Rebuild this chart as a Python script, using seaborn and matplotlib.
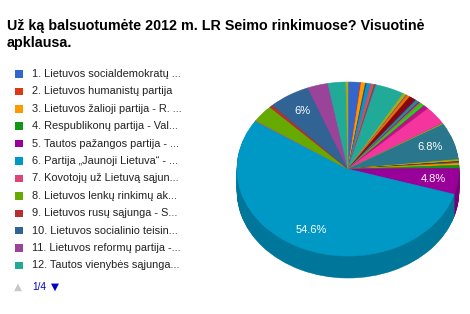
import matplotlib
matplotlib.use("Agg")
import matplotlib.pyplot as plt
from matplotlib.patches import Rectangle
import seaborn as sns

# ---------------- data ----------------
title = "Už ką balsuotumėte 2012 m. LR Seimo rinkimuose? Visuotinė\napklausa."

legend_labels = [
    "1. Lietuvos socialdemokratų ...",
    "2. Lietuvos humanistų partija",
    "3. Lietuvos žalioji partija - R. ...",
    "4. Respublikonų partija - Val...",
    "5. Tautos pažangos partija - ...",
    "6. Partija „Jaunoji Lietuva“ - ...",
    "7. Kovotojų už Lietuvą sąjun...",
    "8. Lietuvos lenkų rinkimų ak...",
    "9. Lietuvos rusų sąjunga - S...",
    "10. Lietuvos socialinio teisin...",
    "11. Lietuvos reformų partija -...",
    "12. Tautos vienybės sąjunga...",
]

# share of answers (%) for all 44 options, in data order (clockwise from top)
shares = [
    1.8, 0.1, 0.6, 0.1, 0.1, 0.6, 0.4, 0.1, 0.1, 0.1, 0.1, 4.2,
    0.5, 0.1, 0.5, 0.8, 0.3, 0.3, 0.2, 0.2, 0.3, 0.5, 0.8, 3.4,
    0.1, 0.1, 6.8, 0.1, 0.3, 0.1, 0.1, 0.1, 0.1, 0.3, 0.6, 4.8,
    54.6, 0.1, 3.2, 0.5, 6.0, 3.0, 2.6, 0.3,
]

base_palette = [
    "#3366cc", "#dc3912", "#ff9900", "#109618", "#990099", "#0099c6",
    "#dd4477", "#66aa00", "#b82e2e", "#316395", "#994499", "#22aa99",
    "#aaaa11", "#6633cc", "#e67300", "#8b0707", "#651067", "#329262",
    "#5574a6", "#3b3eac", "#b77322", "#16d620", "#b91383", "#f4359e",
    "#9c5935", "#a9c413", "#2a778d", "#668d1c", "#bea413", "#0c5922",
    "#743411",
]

page_text = "1/4"

# ---------------- style ----------------
sns.set_theme(style="white")
plt.rcParams["font.family"] = ["Liberation Sans", "DejaVu Sans"]

colors = sns.color_palette([base_palette[i % len(base_palette)] for i in range(len(shares))])
dark_colors = [tuple(c * 0.78 for c in col) for col in colors]

W, H = 470, 314
fig = plt.figure(figsize=(W / 100, H / 100), dpi=100)
fig.patch.set_facecolor("white")

# pie axes: centre (348,169) px, rx 111 px, ry 87 px
cx, cy, rx, ry = 348, 169, 111, 87
ax_left, ax_right = cx - 1.1 * rx, cx + 1.1 * rx
ax_top, ax_bot = 60, 300
ax = fig.add_axes([ax_left / W, (H - ax_bot) / H, (ax_right - ax_left) / W, (ax_bot - ax_top) / H])

depth = 22 / ry
n_layers = 30
for k in range(n_layers):
    off = -depth + depth * k / n_layers
    ax.pie(shares, colors=dark_colors, startangle=90, counterclock=False,
           center=(0, off), radius=1.0,
           wedgeprops=dict(linewidth=0.4), normalize=True)
    for w, c in zip(ax.patches[-len(shares):], dark_colors):
        w.set_edgecolor(c)


def fmt(p):
    if p < 4.5:
        return ""
    s = f"{p:.1f}".rstrip("0").rstrip(".")
    return s + "%"


wedges, texts, autotexts = ax.pie(
    shares, colors=colors, startangle=90, counterclock=False,
    center=(0, 0), radius=1.0, autopct=fmt, pctdistance=0.78,
    wedgeprops=dict(linewidth=0.4), normalize=True,
    textprops=dict(color="white", fontsize=8.0))
for w, c in zip(wedges, colors):
    w.set_edgecolor(c)

ax.set_aspect("auto")
ax.set_xlim(-1.1, 1.1)
ax.set_ylim(-(ax_bot - cy) / ry, (cy - ax_top) / ry)
ax.axis("off")

# ---------------- title ----------------
fig.text(7 / W, 1 - 19 / H, title, fontsize=10.3, fontweight="bold",
         color="#000000", va="top", ha="left", linespacing=1.3)

# ---------------- legend ----------------
y0, step = 74, 17.4
for i, lab in enumerate(legend_labels):
    yc = y0 + i * step
    fig.patches.append(Rectangle((15 / W, 1 - (yc + 3.8) / H), 7.5 / W, 7.5 / H,
                                 transform=fig.transFigure, facecolor=colors[i],
                                 edgecolor="none"))
    fig.text(32 / W, 1 - yc / H, lab, fontsize=7.9, color="#222222",
             va="center", ha="left")

yp = 287
fig.text(14 / W, 1 - yp / H, "▲", fontsize=7.5, color="#c8c8c8", va="center", ha="left",
         family=["DejaVu Sans"])
fig.text(32 / W, 1 - yp / H, page_text, fontsize=7.2, color="#0000cc", va="center", ha="left")
fig.text(51 / W, 1 - yp / H, "▼", fontsize=7.5, color="#0000cc", va="center", ha="left",
         family=["DejaVu Sans"])

fig.savefig("out.png", dpi=100, facecolor="white")
